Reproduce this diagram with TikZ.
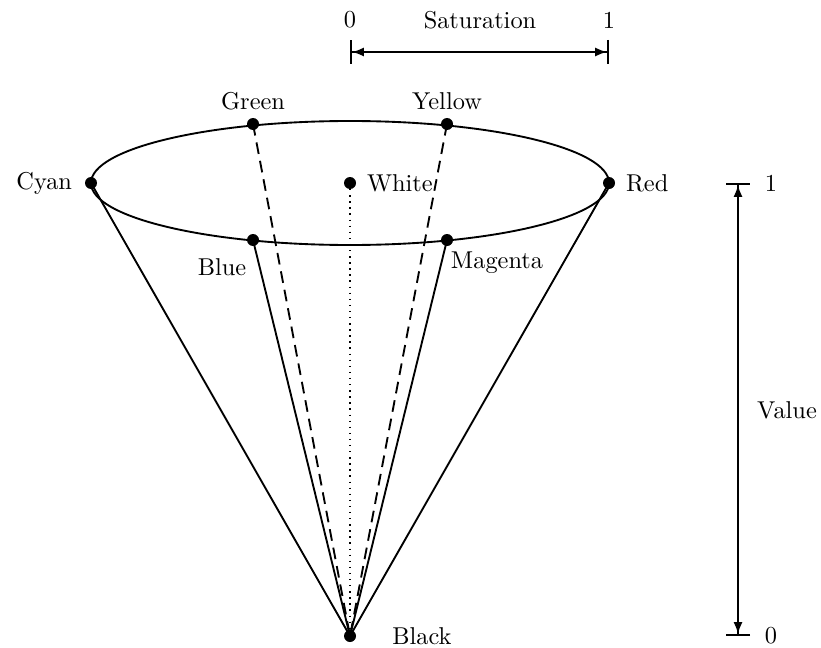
\documentclass[tikz,border=0pt]{standalone}
\usetikzlibrary{arrows.meta, positioning}

\begin{document}
\begin{tikzpicture}[
            x=0.015cm, y=-0.015cm,
            thick,
            font=\fontsize{10.4}{12}\selectfont,
            dot/.style={circle, fill=black, inner sep=0pt, minimum size=0.18cm},
            axis/.style={{Bar[width=3.6mm]Latex[length=1.8mm]}-{Latex[length=1.8mm]Bar[width=3.6mm]}}
        ]
        \useasboundingbox (0,0) rectangle (821,647);

        % rim of the cone
        \node[dot] (white) at (350,183) {};
        \node[dot] (cyan) at (91,183) {};
        \node[dot] (red) at (609,183) {};
        \node[dot] (green) at (253,124) {};
        \node[dot] (yellow) at (447,124) {};
        \node[dot] (blue) at (253,240) {};
        \node[dot] (magenta) at (447,240) {};
        \node[dot] (black) at (350,636) {};
        \draw (white.center) ellipse [x radius=3.885cm, y radius=0.93cm];

        % labels
        \node (cyanl) [left=0.05cm of cyan] {Cyan};
        \node (redl) [right=0.02cm of red] {Red};
        \node (whitel) [right=0.02cm of white] {White};
        \node (greenl) at (253,101) {Green};
        \node (yellowl) at (447,101) {Yellow};
        \node (bluel) at (222,267) {Blue};
        \node (magental) at (497,263) {Magenta};
        \node (blackl) [right=0.4cm of black] {Black};

        % sides
        \draw (cyan.center) -- (black.center);
        \draw (red.center) -- (black.center);
        \draw (blue.center) -- (black.center);
        \draw (magenta.center) -- (black.center);
        \draw[dash pattern=on 5pt off 3pt] (green.center) -- (black.center);
        \draw[dash pattern=on 5pt off 3pt] (yellow.center) -- (black.center);
        \draw[semithick, dotted] (white.center) -- (black.center);

        % saturation axis
        \coordinate (s0) at (350,52);
        \coordinate (s1) at (609,52);
        \draw[axis] (s0) -- (s1);
        \node (s0l) at (350,20) {0};
        \node (s1l) at (609,20) {1};
        \node (satl) at (480,20) {Saturation};

        % value axis
        \coordinate (v1) at (738,183);
        \coordinate (v0) at (738,636);
        \draw[axis] (v0) -- (v1);
        \node (v1l) at (771,183) {1};
        \node (v0l) at (771,636) {0};
        \node (vall) at (787,410) {Value};
\end{tikzpicture}
\end{document}
